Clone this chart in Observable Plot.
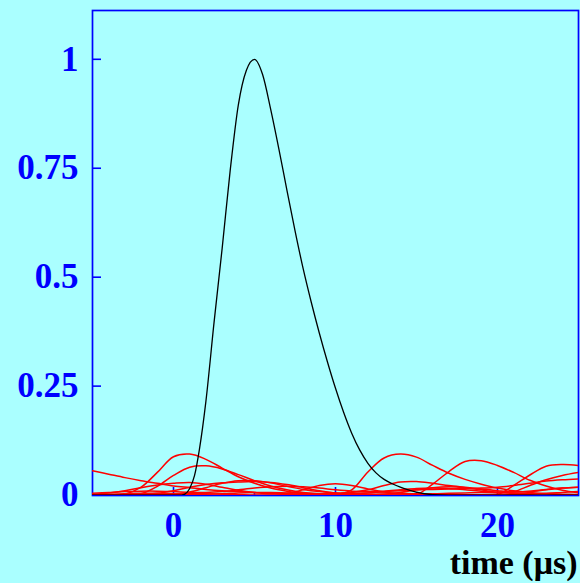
<!DOCTYPE html>
<html><head><meta charset="utf-8">
<script src="https://cdn.jsdelivr.net/npm/d3@7"></script>
<script src="https://cdn.jsdelivr.net/npm/@observablehq/plot@0.6"></script>
<style>
html,body{margin:0;padding:0;background:#aaffff;overflow:hidden;}
</style></head><body><div id="chart"></div>
<script>
// time grid for red (neighbour) curves, μs
const tGrid = [-5,-4,-3,-2,-1,0,1,2,3,4,5,6,7,8,9,10,11,12,13,14,15,16,17,18,19,20,21,22,23,24,25];
const red1 = [0.056,0.048,0.040,0.033,0.027,0.021,0.017,0.013,0.010,0.008,0.006,0.004,0.003,0.002,0.002,0.002,0.003,0.005,0.008,0.010,0.012,0.013,0.014,0.015,0.016,0.018,0.022,0.027,0.032,0.035,0.037];
const red2 = [0,0,0.002,0.018,0.052,0.088,0.094,0.082,0.062,0.042,0.027,0.016,0.009,0.004,0.002,0.001,0.012,0.053,0.085,0.094,0.087,0.068,0.050,0.036,0.025,0.016,0.010,0.006,0.003,0.001,0];
const red3 = [0,0,0,0.003,0.020,0.045,0.064,0.067,0.060,0.047,0.033,0.021,0.012,0.006,0.003,0.001,0,0,0,0,0.001,0.025,0.054,0.077,0.079,0.068,0.052,0.034,0.021,0.011,0.005];
const red4 = [0.002,0.005,0.010,0.017,0.023,0.027,0.029,0.025,0.018,0.011,0.006,0.003,0.004,0.012,0.022,0.026,0.022,0.014,0.007,0.003,0.001,0,0,0,0,0.001,0.022,0.046,0.066,0.070,0.068];
const red5 = [0,0,0,0,0,0.001,0.007,0.017,0.027,0.033,0.033,0.028,0.020,0.013,0.008,0.005,0.006,0.012,0.022,0.030,0.031,0.027,0.022,0.018,0.014,0.010,0.007,0.008,0.012,0.016,0.018];
const red6 = [0,0,0,0.001,0.004,0.010,0.018,0.024,0.028,0.030,0.031,0.029,0.024,0.017,0.010,0.005,0.002,0.001,0.002,0.006,0.012,0.017,0.019,0.017,0.012,0.006,0.008,0.022,0.035,0.045,0.052];
const red7 = [0.004,0.006,0.008,0.009,0.009,0.008,0.006,0.006,0.008,0.012,0.016,0.019,0.020,0.019,0.016,0.012,0.009,0.008,0.009,0.012,0.015,0.016,0.015,0.012,0.009,0.007,0.007,0.009,0.013,0.016,0.018];
const red8 = [0.001,0.002,0.003,0.004,0.004,0.003,0.002,0.002,0.003,0.005,0.006,0.006,0.005,0.004,0.003,0.003,0.004,0.005,0.005,0.004,0.003,0.003,0.004,0.005,0.006,0.005,0.004,0.003,0.004,0.006,0.008];
const red9 = [0,0,0,0,0.001,0.002,0.003,0.003,0.002,0.001,0,0,0.001,0.002,0.003,0.003,0.002,0.001,0,0,0.001,0.002,0.002,0.001,0,0,0.001,0.002,0.003,0.002,0.001];

// main (black) pulse
const tBlack = [-5,-3,-1,0,0.5,0.7,1.0,1.3,1.6,2.0,2.5,3.0,3.5,4.0,4.5,5.0,5.5,6.0,6.5,7.0,7.5,8.0,8.5,9.0,9.5,10.0,10.5,11.0,11.5,12.0,12.5,13.0,13.5,14.0,14.5,15.0,15.5,16,17,19,22,25];
const vBlack = [0,0,0,0,0,0.002,0.015,0.045,0.105,0.215,0.395,0.565,0.745,0.895,0.975,1.0,0.965,0.885,0.795,0.70,0.607,0.52,0.443,0.372,0.306,0.245,0.19,0.142,0.103,0.073,0.051,0.036,0.026,0.018,0.012,0.007,0.003,0.001,0,0,0,0];

const xMajor = [0, 10, 20];
const xMinor = [5, 15];
const yTicks = [0, 0.25, 0.5, 0.75, 1];
const xLabel = "time (μs)";

const redSeries = [red1, red2, red3, red4, red5, red6, red7, red8, red9];
const redData = redSeries.flatMap((vals, i) => vals.map((v, j) => ({t: tGrid[j], v, s: i})));
const blackData = tBlack.map((t, i) => ({t, v: vBlack[i]}));

const W = 580, H = 583, ML = 92, MR = 2, MT = 10, MB = 88;
const frameW = W - ML - MR, frameH = H - MT - MB;
const blue = "#0000ff";
const font = "'Liberation Serif', 'Times New Roman', serif";

const chart = Plot.plot({
  width: W, height: H,
  marginLeft: ML, marginRight: MR, marginTop: MT, marginBottom: MB,
  style: {background: "#aaffff", color: blue, fontFamily: font, fontWeight: "bold", fontSize: "35px", overflow: "visible"},
  x: {domain: [-5, 25]},
  y: {domain: [-0.001, 1.112]},
  marks: [
    Plot.frame({stroke: blue, strokeWidth: 1.7}),
    Plot.ruleX(xMajor, {x: d => d, stroke: blue, strokeWidth: 1.6, insetTop: frameH - 8}),
    Plot.ruleX(xMinor, {x: d => d, stroke: blue, strokeWidth: 1.6, insetTop: frameH - 3}),
    Plot.ruleY(yTicks, {y: d => d, stroke: blue, strokeWidth: 1.6, insetRight: frameW - 9}),
    Plot.line(redData, {x: "t", y: "v", z: "s", stroke: "#ff0000", strokeWidth: 1.5, curve: "catmull-rom", clip: true}),
    Plot.line(blackData, {x: "t", y: "v", stroke: "#000000", strokeWidth: 1.3, curve: "monotone-x", clip: true}),
    Plot.axisX({ticks: xMajor, tickSize: 0, tickPadding: 17, tickFormat: d => String(d), label: null,
      fill: blue, fontSize: 35, fontWeight: "bold", fontFamily: font}),
    Plot.axisY({ticks: yTicks, tickSize: 0, tickPadding: 14, tickFormat: d => String(d), label: null,
      fill: blue, fontSize: 35, fontWeight: "bold", fontFamily: font}),
    Plot.text([xLabel], {frameAnchor: "bottom-right", text: d => d, textAnchor: "end", lineAnchor: "top", dy: 54, dx: -1,
      fill: "#000000", fontSize: 34, fontWeight: "bold", fontFamily: font})
  ]
});
document.getElementById("chart").appendChild(chart);
</script>
</body></html>
